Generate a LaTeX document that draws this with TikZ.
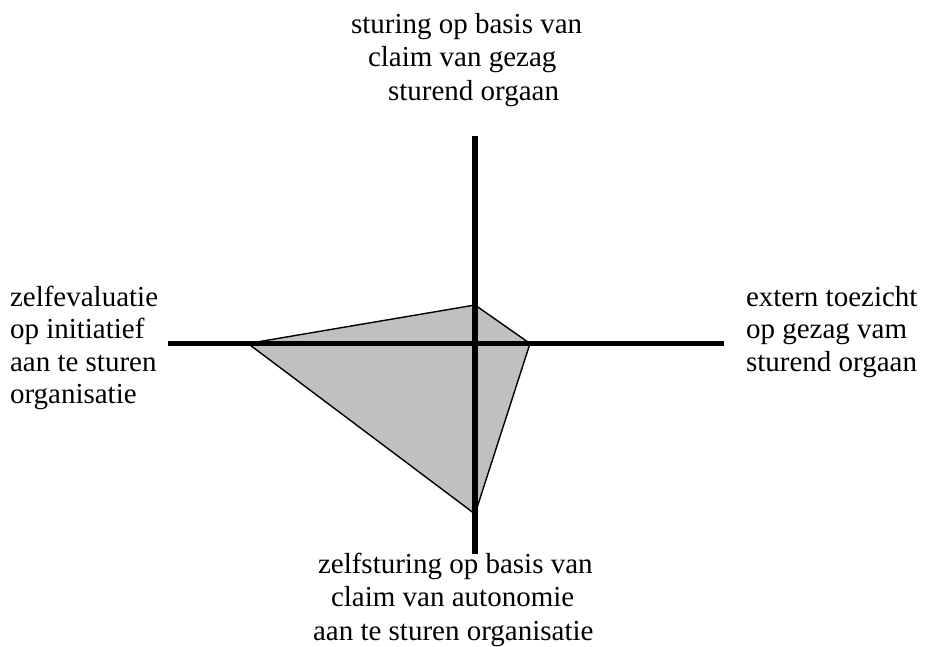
\documentclass[tikz,border=0pt]{standalone}
\usepackage{fontspec}
\setmainfont{Liberation Serif}
\tikzset{
  lbl/.style={anchor=base west, inner sep=0pt, outer sep=0pt, font=\fontsize{29}{33}\selectfont},
  axisline/.style={line width=5.5pt},
  area/.style={fill={rgb,255:red,192;green,192;blue,192}, draw=black, line width=1.4pt, line join=miter}
}
\begin{document}
\begin{tikzpicture}[x=1pt,y=-1pt]
\useasboundingbox (0,0) rectangle (925,646);
% polygon vertices
\coordinate (pt) at (475,305);
\coordinate (pr) at (530,343.5);
\coordinate (pb) at (475,514);
\coordinate (pl) at (248,343.5);
\draw[area] (pt) -- (pr) -- (pb) -- (pl) -- cycle;
% axes
\coordinate (vtop) at (475,136);
\coordinate (vbot) at (475,554);
\coordinate (hl) at (168,343.5);
\coordinate (hr) at (724,343.5);
\draw[axisline] (vtop) -- (vbot);
\draw[axisline] (hl) -- (hr);
% top labels
\node[lbl] (t1) at (351,33) {sturing op basis van};
\node[lbl] (t2) at (368,66.5) {claim van gezag};
\node[lbl] (t3) at (388,100) {sturend orgaan};
% left labels
\node[lbl] (l1) at (10,306) {zelfevaluatie};
\node[lbl] (l2) at (10,338.5) {op initiatief};
\node[lbl] (l3) at (10,371.5) {aan te sturen};
\node[lbl] (l4) at (10,403.5) {organisatie};
% right labels
\node[lbl] (r1) at (746,306) {extern toezicht};
\node[lbl] (r2) at (746,338.5) {op gezag vam};
\node[lbl] (r3) at (746,371.5) {sturend orgaan};
% bottom labels
\node[lbl] (b1) at (318,573) {zelfsturing op basis van};
\node[lbl] (b2) at (331,606.5) {claim van autonomie};
\node[lbl] (b3) at (313,640) {aan te sturen organisatie};
\end{tikzpicture}
\end{document}
